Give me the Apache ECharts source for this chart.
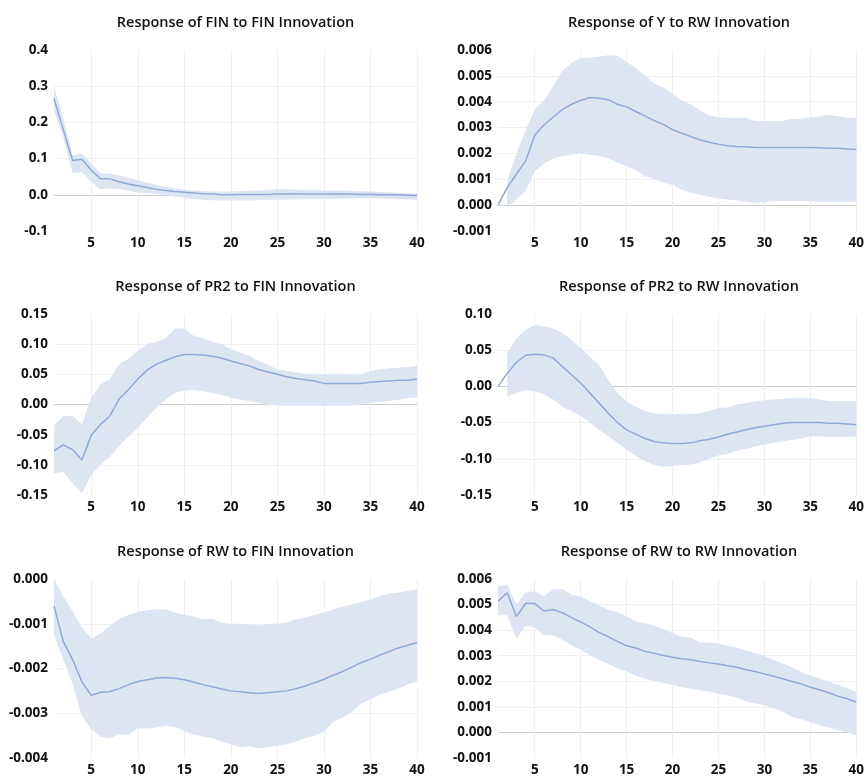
<!DOCTYPE html>
<html>
<head>
<meta charset="utf-8">
<script src="https://cdn.jsdelivr.net/npm/echarts@6/dist/echarts.min.js"></script>
<style>
html,body{margin:0;padding:0;background:#fff;}
#chart{width:867px;height:777px;}
</style>
</head>
<body>
<div id="chart"></div>
<script>
// ---- Data ----
const periods = ['1','2','3','4','5','6','7','8','9','10','11','12','13','14','15','16','17','18','19','20',
  '21','22','23','24','25','26','27','28','29','30','31','32','33','34','35','36','37','38','39','40'];

const titles = [
  'Response of FIN to FIN Innovation',
  'Response of Y to RW Innovation',
  'Response of PR2 to FIN Innovation',
  'Response of PR2 to RW Innovation',
  'Response of RW to FIN Innovation',
  'Response of RW to RW Innovation'
];

// Panel 1: FIN to FIN
const finFinIrf = [0.266,0.18,0.095,0.098,0.068,0.044,0.044,0.036,0.030,0.025,0.020,0.015,0.012,0.009,0.007,0.005,0.003,0.002,0.000,0.000,
  0.001,0.001,0.001,0.001,0.002,0.002,0.002,0.002,0.002,0.002,0.002,0.002,0.002,0.001,0.001,0.000,0.000,0.000,-0.001,-0.002];
const finFinLo = [0.232,0.16,0.059,0.062,0.036,0.015,0.018,0.016,0.012,0.006,0.004,0.002,-0.002,-0.005,-0.009,-0.012,-0.014,-0.015,-0.016,-0.016,
  -0.016,-0.016,-0.015,-0.014,-0.014,-0.013,-0.013,-0.012,-0.012,-0.012,-0.011,-0.011,-0.010,-0.010,-0.009,-0.010,-0.011,-0.012,-0.013,-0.014];
const finFinHi = [0.300,0.21,0.109,0.115,0.086,0.059,0.059,0.053,0.047,0.041,0.034,0.027,0.022,0.018,0.014,0.012,0.010,0.009,0.009,0.009,
  0.010,0.011,0.012,0.013,0.015,0.015,0.014,0.013,0.013,0.012,0.012,0.012,0.011,0.010,0.009,0.008,0.007,0.006,0.004,0.003];

// Panel 2: Y to RW
const yRwIrf = [0.0000,0.00068,0.0012,0.0017,0.0027,0.0031,0.0034,0.0037,0.0039,0.00405,0.00416,0.00413,0.00408,0.0039,0.0038,0.00362,0.00344,0.00327,0.00312,0.00292,
  0.00278,0.00265,0.00252,0.00243,0.00236,0.0023,0.00227,0.00226,0.00223,0.00223,0.00223,0.00223,0.00223,0.00223,0.00223,0.00222,0.0022,0.0022,0.00217,0.00215];
const yRwLo = [null,-0.0001,0.00022,0.00055,0.0013,0.0016,0.0018,0.0019,0.00195,0.002,0.00195,0.0019,0.0018,0.00165,0.0015,0.00135,0.00113,0.001,0.00087,0.00078,
  0.0006,0.00048,0.0004,0.00032,0.00026,0.00022,0.00018,0.00013,0.00008,0.00012,0.00016,0.00016,0.00016,0.00016,0.00016,0.00013,0.00013,0.00013,0.00013,0.00013];
const yRwHi = [null,0.00094,0.002,0.0029,0.0037,0.00405,0.0046,0.0052,0.0055,0.0057,0.0057,0.00574,0.0058,0.00578,0.00555,0.0053,0.005,0.0047,0.00455,0.0043,
  0.00405,0.0039,0.00366,0.00347,0.0034,0.00338,0.00338,0.00338,0.00325,0.00325,0.00325,0.00325,0.00334,0.00334,0.0034,0.00343,0.0035,0.00344,0.00338,0.00338];

// Panel 3: PR2 to FIN
const pr2FinIrf = [-0.077,-0.067,-0.075,-0.092,-0.051,-0.033,-0.019,0.009,0.025,0.042,0.057,0.067,0.073,0.079,0.083,0.083,0.082,0.080,0.077,0.072,
  0.068,0.064,0.058,0.054,0.050,0.046,0.043,0.041,0.039,0.035,0.035,0.035,0.035,0.035,0.037,0.038,0.039,0.040,0.040,0.042];
const pr2FinLo = [-0.114,-0.112,-0.130,-0.147,-0.117,-0.100,-0.086,-0.069,-0.053,-0.039,-0.022,-0.006,0.008,0.019,0.023,0.024,0.022,0.019,0.016,0.012,
  0.008,0.006,0.003,0.000,-0.002,-0.002,-0.002,-0.002,-0.002,-0.002,-0.002,-0.002,-0.002,0.000,0.003,0.004,0.006,0.008,0.011,0.011];
const pr2FinHi = [-0.035,-0.019,-0.019,-0.033,0.011,0.033,0.042,0.067,0.076,0.089,0.100,0.104,0.110,0.126,0.126,0.114,0.110,0.104,0.100,0.092,
  0.086,0.081,0.072,0.066,0.058,0.056,0.053,0.051,0.050,0.050,0.050,0.050,0.049,0.050,0.056,0.058,0.060,0.061,0.062,0.064];

// Panel 4: PR2 to RW
const pr2RwIrf = [0.000,0.018,0.033,0.043,0.0445,0.0436,0.039,0.0275,0.016,0.0046,-0.009,-0.023,-0.037,-0.050,-0.060,-0.066,-0.072,-0.076,-0.078,-0.079,
  -0.079,-0.078,-0.075,-0.073,-0.070,-0.066,-0.063,-0.060,-0.057,-0.055,-0.053,-0.051,-0.050,-0.050,-0.050,-0.050,-0.051,-0.051,-0.052,-0.053];
const pr2RwLo = [null,-0.014,-0.009,-0.005,-0.007,-0.011,-0.018,-0.028,-0.034,-0.041,-0.050,-0.060,-0.069,-0.078,-0.087,-0.096,-0.103,-0.109,-0.111,-0.110,
  -0.109,-0.108,-0.105,-0.100,-0.095,-0.093,-0.089,-0.086,-0.083,-0.080,-0.078,-0.076,-0.074,-0.072,-0.069,-0.069,-0.070,-0.070,-0.070,-0.070];
const pr2RwHi = [null,0.046,0.066,0.078,0.085,0.083,0.080,0.074,0.064,0.053,0.041,0.030,0.009,-0.009,-0.021,-0.028,-0.034,-0.037,-0.038,-0.038,
  -0.038,-0.038,-0.037,-0.034,-0.030,-0.029,-0.025,-0.023,-0.021,-0.019,-0.018,-0.017,-0.016,-0.016,-0.016,-0.018,-0.020,-0.020,-0.020,-0.020];

// Panel 5: RW to FIN
const rwFinIrf = [-0.0006,-0.0014,-0.0018,-0.0023,-0.0026,-0.00253,-0.00252,-0.00245,-0.00236,-0.00229,-0.00225,-0.00221,-0.0022,-0.00222,-0.00225,-0.0023,-0.00236,-0.00241,-0.00246,-0.0025,
  -0.00252,-0.00254,-0.00256,-0.00254,-0.00252,-0.0025,-0.00245,-0.00239,-0.00232,-0.00224,-0.00215,-0.00207,-0.00197,-0.00187,-0.00179,-0.0017,-0.00162,-0.00154,-0.00148,-0.00142];
const rwFinLo = [-0.00125,-0.0018,-0.00235,-0.00306,-0.00336,-0.00352,-0.00356,-0.00347,-0.00348,-0.00334,-0.00334,-0.00332,-0.00328,-0.00331,-0.0034,-0.00347,-0.00352,-0.00356,-0.00363,-0.0037,
  -0.00376,-0.00374,-0.00378,-0.00376,-0.00373,-0.00369,-0.00363,-0.00356,-0.0035,-0.00342,-0.00319,-0.0031,-0.00297,-0.00278,-0.00269,-0.00258,-0.00252,-0.00245,-0.00236,-0.00229];
const rwFinHi = [0.0000,-0.00038,-0.00072,-0.00108,-0.00133,-0.00122,-0.00104,-0.00089,-0.0008,-0.00074,-0.0007,-0.00068,-0.00068,-0.00075,-0.0008,-0.00084,-0.0009,-0.00089,-0.00098,-0.001,
  -0.001,-0.00101,-0.00104,-0.001,-0.001,-0.00097,-0.0009,-0.00086,-0.0008,-0.00075,-0.00068,-0.00062,-0.00057,-0.00052,-0.00046,-0.00038,-0.00033,-0.0003,-0.00026,-0.00024];

// Panel 6: RW to RW
const rwRwIrf = [0.00513,0.00546,0.00453,0.00504,0.00504,0.00475,0.00481,0.00468,0.00449,0.00432,0.00413,0.00391,0.00374,0.00356,0.00339,0.0033,0.00317,0.0031,0.00301,0.00294,
  0.00288,0.00284,0.00277,0.00272,0.00268,0.00261,0.00255,0.00245,0.00238,0.00229,0.0022,0.0021,0.00199,0.0019,0.00177,0.00167,0.00155,0.00142,0.00132,0.00119];
const rwRwLo = [0.00458,0.00458,0.00365,0.00417,0.0041,0.0038,0.0038,0.00362,0.00342,0.00323,0.00303,0.00283,0.00268,0.00251,0.00238,0.00222,0.0021,0.002,0.00193,0.00186,
  0.00177,0.00171,0.00164,0.0016,0.00151,0.00145,0.00135,0.00122,0.00113,0.00106,0.00094,0.0008,0.00061,0.00052,0.00041,0.00028,0.00018,0.00009,0.0,-0.00013];
const rwRwHi = [0.00572,0.00578,0.005,0.00546,0.00552,0.00533,0.00559,0.00561,0.00539,0.00533,0.00513,0.00497,0.00481,0.00471,0.00453,0.00436,0.00427,0.00417,0.00404,0.00388,
  0.00375,0.00371,0.00352,0.00352,0.00349,0.00339,0.00332,0.00319,0.0031,0.003,0.00283,0.0027,0.00255,0.00238,0.00222,0.00212,0.00199,0.00186,0.00173,0.00158];

// Y-axis ranges (min, max, interval, decimals)
const yMins = [-0.1, -0.001, -0.15, -0.15, -0.004, -0.001];
const yMaxs = [0.4, 0.006, 0.15, 0.10, 0.000, 0.006];
const yIntervals = [0.1, 0.001, 0.05, 0.05, 0.001, 0.001];
const yDecimals = [1, 3, 2, 2, 3, 3];

const panels = [
  [finFinIrf, finFinLo, finFinHi],
  [yRwIrf, yRwLo, yRwHi],
  [pr2FinIrf, pr2FinLo, pr2FinHi],
  [pr2RwIrf, pr2RwLo, pr2RwHi],
  [rwFinIrf, rwFinLo, rwFinHi],
  [rwRwIrf, rwRwLo, rwRwHi]
];

// ---- Layout / style ----
const gridLefts = [54, 498];
const gridTops = [50, 314, 579];
const gridWidths = [363, 362];
const gridHeight = 181;
const FONT = '"Open Sans", "Noto Sans", sans-serif';
const LINE_COLOR = '#8ea8d8';
const BAND_COLOR = '#dde5f3';
const GRID_COLOR = '#efefef';
const ZERO_COLOR = '#cccccc';

const grids = [], xAxes = [], yAxes = [], series = [], titleOpts = [];

panels.forEach((p, i) => {
  const col = i % 2, row = Math.floor(i / 2);
  const left = gridLefts[col], top = gridTops[row], width = gridWidths[col];
  grids.push({left: left, top: top, width: width, height: gridHeight, containLabel: false});
  titleOpts.push({
    text: titles[i], left: left + width / 2, top: top - 35, textAlign: 'center', padding: 0,
    textStyle: {fontFamily: FONT, fontSize: 14.5, fontWeight: 600, color: '#111'}
  });
  xAxes.push({
    type: 'category', gridIndex: i, data: periods, boundaryGap: false,
    axisLine: {show: false}, axisTick: {show: false},
    axisLabel: {interval: (idx) => (idx + 1) % 5 === 0, margin: 5,
      fontFamily: FONT, fontSize: 13.5, fontWeight: 700, color: '#111'},
    splitLine: {show: true, interval: (idx) => (idx + 1) % 5 === 0, lineStyle: {color: GRID_COLOR, width: 1}}
  });
  const min = yMins[i], max = yMaxs[i], step = yIntervals[i];
  const nTicks = Math.round((max - min) / step) + 1;
  const colors = [];
  for (let k = 0; k < nTicks; k++) {
    const v = min + k * step;
    if (k === 0 || k === nTicks - 1) colors.push('rgba(0,0,0,0)');
    else if (Math.abs(v) < step / 10) colors.push(ZERO_COLOR);
    else colors.push(GRID_COLOR);
  }
  const dec = yDecimals[i];
  yAxes.push({
    type: 'value', gridIndex: i, min: min, max: max, interval: step,
    axisLine: {show: false}, axisTick: {show: false},
    axisLabel: {margin: 6, formatter: (v) => v.toFixed(dec),
      fontFamily: FONT, fontSize: 13.5, fontWeight: 700, color: '#111'},
    splitLine: {show: true, lineStyle: {color: colors, width: 1.2}}
  });
  const [irf, lo, hi] = p;
  const diff = hi.map((h, k) => (h === null || lo[k] === null) ? null : h - lo[k]);
  series.push({
    type: 'line', xAxisIndex: i, yAxisIndex: i, data: lo, stack: 'band' + i, stackStrategy: 'all',
    symbol: 'none', silent: true, lineStyle: {opacity: 0}, areaStyle: {opacity: 0}, z: 1
  });
  series.push({
    type: 'line', xAxisIndex: i, yAxisIndex: i, data: diff, stack: 'band' + i, stackStrategy: 'all',
    symbol: 'none', silent: true, lineStyle: {opacity: 0}, areaStyle: {color: BAND_COLOR, opacity: 1}, z: 2
  });
  series.push({
    type: 'line', xAxisIndex: i, yAxisIndex: i, data: irf,
    symbol: 'none', silent: true, lineStyle: {color: LINE_COLOR, width: 1.5}, z: 3
  });
});

const chart = echarts.init(document.getElementById('chart'), null, {renderer: 'canvas'});
chart.setOption({
  backgroundColor: '#ffffff',
  animation: false,
  title: titleOpts,
  grid: grids,
  xAxis: xAxes,
  yAxis: yAxes,
  series: series
});
</script>
</body>
</html>
